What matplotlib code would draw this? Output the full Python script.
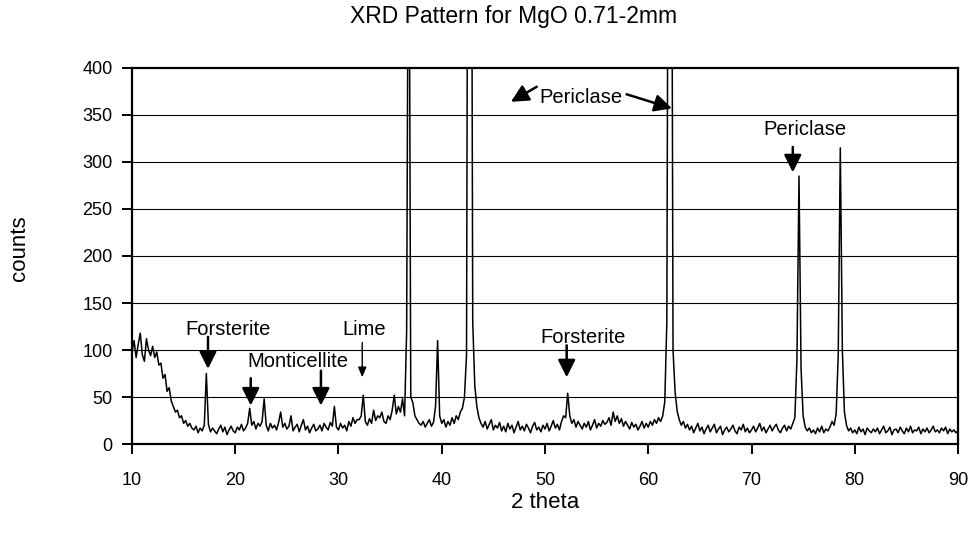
import numpy as np
import matplotlib
matplotlib.use('Agg')
import matplotlib.pyplot as plt

plt.rcParams['font.family'] = ['Liberation Sans', 'DejaVu Sans']

# Scan, one value every 0.2 degrees 2 theta
step = 0.2
counts_10_30 = [
    98, 110, 92, 106, 118, 95, 88, 112, 100, 94,
    104, 92, 98, 84, 86, 70, 74, 56, 60, 46,
    40, 34, 36, 28, 30, 22, 25, 19, 22, 17,
    15, 19, 12, 17, 14, 20, 75, 21, 13, 17,
    14, 11, 16, 20, 13, 18, 10, 15, 19, 14,
    12, 18, 15, 21, 14, 17, 22, 38, 20, 24,
    16, 22, 19, 24, 48, 20, 14, 22, 17, 20,
    15, 23, 34, 18, 22, 16, 19, 30, 14, 18,
    21, 13, 20, 26, 15, 19, 12, 17, 21, 14,
    16, 20, 14, 22, 18, 15, 23, 19, 40, 18,
]
counts_30_50 = [
    15, 22, 17, 20, 14, 24, 19, 28, 22, 26,
    26, 30, 52, 24, 20, 27, 22, 36, 25, 30,
    28, 34, 24, 22, 30, 26, 36, 52, 32, 40,
    34, 48, 30, 120, 700, 50, 44, 30, 26, 22,
    20, 24, 18, 22, 26, 19, 23, 40, 110, 30,
    22, 26, 18, 24, 20, 28, 22, 30, 26, 34,
    38, 50, 95, 1000, 1000, 130, 62, 40, 28, 22,
    18, 24, 16, 21, 26, 15, 20, 17, 23, 14,
    19, 13, 22, 16, 20, 12, 18, 24, 15, 19,
    14, 21, 17, 12, 19, 23, 15, 18, 13, 20,
]
counts_50_70 = [
    16, 22, 14, 19, 25, 17, 21, 15, 24, 30,
    28, 54, 30, 22, 26, 18, 24, 20, 16, 22,
    18, 24, 15, 20, 26, 17, 22, 19, 25, 21,
    23, 28, 20, 34, 24, 30, 22, 27, 19, 24,
    20, 16, 23, 18, 21, 15, 19, 24, 17, 22,
    18, 24, 20, 26, 22, 28, 24, 30, 45, 130,
    900, 900, 100, 55, 35, 26, 20, 24, 17, 21,
    15, 19, 12, 17, 22, 14, 18, 11, 16, 20,
    13, 17, 21, 12, 16, 19, 10, 15, 18, 13,
    16, 20, 14, 11, 18, 15, 21, 13, 17, 12,
]
counts_70_90 = [
    15, 19, 13, 17, 22, 14, 18, 12, 16, 20,
    14, 18, 21, 15, 12, 17, 20, 14, 19, 16,
    22, 28, 90, 285, 80, 30, 18, 14, 17, 12,
    15, 11, 17, 13, 19, 12, 16, 14, 18, 24,
    20, 32, 95, 315, 100, 34, 20, 14, 17, 12,
    15, 11, 18, 13, 16, 10, 17, 14, 12, 16,
    13, 17, 11, 15, 19, 12, 14, 18, 10, 15,
    16, 12, 18, 14, 11, 17, 13, 19, 12, 15,
    14, 18, 11, 16, 13, 17, 12, 15, 19, 13,
    15, 12, 17, 14, 18, 11, 16, 13, 15, 12,
    14,
]

counts = np.array(counts_10_30 + counts_30_50 + counts_50_70 + counts_70_90)
two_theta = 10 + step * np.arange(len(counts))

# Create figure and axes
fig = plt.figure(figsize=(9.72, 5.35), dpi=100)
ax = fig.add_axes([0.1358, 0.170, 0.8498, 0.703])

ax.plot(two_theta, counts, color='black', linewidth=1.1)

ax.set_xlim(10, 90)
ax.set_ylim(0, 400)
ax.set_xticks(range(10, 91, 10))
ax.set_yticks(range(0, 401, 50))

# Horizontal grid only
for v in range(50, 400, 50):
    ax.axhline(v, color='black', linewidth=0.8, zorder=0)

for s in ax.spines.values():
    s.set_linewidth(1.6)

ax.tick_params(axis='both', direction='out', length=7, width=1.4, labelsize=13)
ax.tick_params(axis='x', pad=13)
ax.tick_params(axis='y', pad=7)

ax.set_xlabel('2 theta', fontsize=16, labelpad=2)
fig.text(20 / 972, 1 - 248 / 535, 'counts', rotation=90, fontsize=16,
         ha='center', va='center')
fig.text(514 / 972, 0.97, 'XRD Pattern for MgO 0.71-2mm', fontsize=16.5,
         ha='center', va='center')

# Phase labels
labels = [
    ('Forsterite', 19.35, 116),
    ('Monticellite', 26.1, 82),
    ('Lime', 32.5, 116),
    ('Periclase', 53.5, 363),
    ('Forsterite', 53.7, 107.5),
    ('Periclase', 75.2, 329),
]
for txt, x, y in labels:
    ax.text(x, y, txt, fontsize=14.5, ha='center', va='baseline')

# Arrows: (tail, tip)
arrows = [
    ((17.36, 114), (17.36, 80)),
    ((21.5, 70), (21.5, 41)),
    ((28.3, 78), (28.3, 41)),
    ((49.2, 380), (46.7, 364)),
    ((57.9, 372), (62.3, 357)),
    ((52.1, 105), (52.1, 71)),
    ((74.0, 316), (74.0, 289)),
]
for tail, tip in arrows:
    ax.annotate('', xy=tip, xytext=tail,
                arrowprops=dict(arrowstyle='-|>,head_length=0.7,head_width=0.35',
                                color='black', lw=1.8, mutation_scale=15,
                                shrinkA=0, shrinkB=0))

# Lime arrow is thin
ax.annotate('', xy=(32.3, 71), xytext=(32.3, 108),
            arrowprops=dict(arrowstyle='-|>,head_length=0.6,head_width=0.25',
                            color='black', lw=1.0, mutation_scale=10,
                            shrinkA=0, shrinkB=0))

plt.savefig('out.png', dpi=100)
